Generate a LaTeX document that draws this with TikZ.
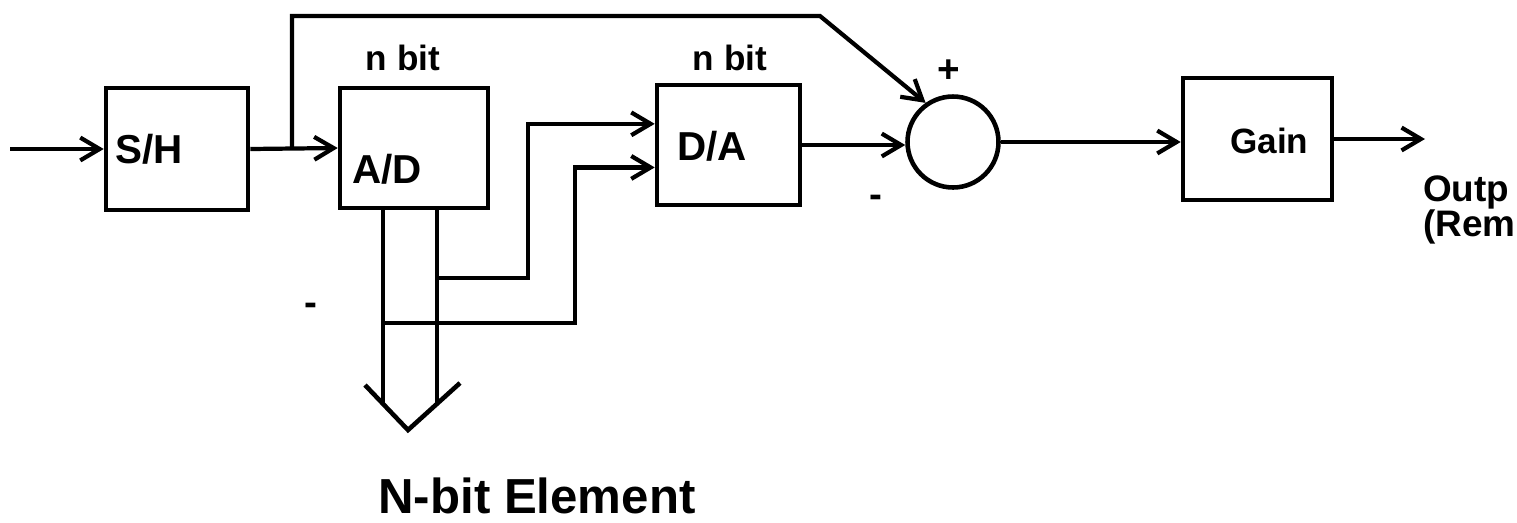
\documentclass[tikz,border=0pt]{standalone}
\usepackage{fontspec}
\setmainfont{Liberation Sans}
\usetikzlibrary{arrows.meta,positioning,calc}

\tikzset{
  box/.style={draw, line width=2.6pt, inner sep=0pt},
  arr/.style={-{Straight Barb[length=11pt,width=13pt]}},
  lbl/.style={font=\fontsize{23}{26}\selectfont\bfseries, anchor=base west, inner sep=0pt},
  bits/.style={font=\fontsize{20}{22}\selectfont\bfseries, anchor=base, inner sep=0pt},
  sgn/.style={font=\fontsize{22}{24}\selectfont\bfseries, inner sep=0pt},
}

\begin{document}
\begin{tikzpicture}[x=0.02cm, y=-0.02cm, line width=2.4pt]
  \clip (0,0) rectangle (1517,522);  % page of the reference

  % ---- Blocks ----
  \node[box, minimum width=2.84cm, minimum height=2.44cm] (sh) at (177,149) {};
  \node[box, minimum width=2.96cm, minimum height=2.40cm] (ad) at (414,148) {};
  \node[box, minimum width=2.86cm, minimum height=2.40cm] (da) at (728.5,145) {};
  \node[draw, circle, line width=2.6pt, minimum size=1.82cm, inner sep=0pt] (sum) at (953,142) {};
  \node[box, minimum width=2.98cm, minimum height=2.44cm] (gain) at (1257.5,139) {};

  % ---- Labels ----
  \node[lbl] (shtxt) at (113,163) {S/H};
  \node[lbl] (adtxt) at (350,183) {A/D};
  \node[lbl] (datxt) at (675,160) {D/A};
  \node[lbl, font=\fontsize{20}{22}\selectfont\bfseries] (gaintxt) at (1228,153) {Gain};
  \node[bits] (adbits) at (403,70) {n bit};
  \node[bits] (dabits) at (730,70) {n bit};
  \node[sgn] (plus) at (949,71) {+};
  \node[sgn] (minus) at (876,201) {-};
  \node[sgn] (mark) at (311,309) {-};
  \node[font=\fontsize{21}{16}\selectfont\bfseries, align=left, anchor=base west, inner sep=0pt]
    (outtxt) at (1421,236) {Outp\\[-1pt](Rem};
  \node[font=\fontsize{28}{30}\selectfont\bfseries, anchor=base, inner sep=0pt]
    (elemtxt) at (537,513) {N-bit Element};

  % ---- Signal path ----
  \coordinate (in) at (10,149);
  \coordinate (tap) at (292,149);
  \coordinate (bend) at (820,16);
  \coordinate (out) at (1425,139);
  \draw[arr] (in) -- (sh.west);
  \draw[arr] (sh.east) -- (ad.west);
  \draw[arr] (tap) |- (bend) -- (sum.125);
  \draw[arr] (da.east) -- (da.east -| sum.west);
  \draw[arr] (sum.east) -- (sum.east -| gain.west);
  \draw[arr] (gain.east) -- (out);

  % ---- N-bit bus out of the A/D ----
  \coordinate (busL) at (383,404);
  \coordinate (busR) at (437,404);
  \draw (ad.south -| busL) -- (busL);
  \draw (ad.south -| busR) -- (busR);
  \draw[line width=2.6pt] (365,385) -- (408,430) -- (460,383);

  % two bits back into the D/A
  \coordinate (jA) at (437,278);
  \coordinate (jB) at (383,323);
  \coordinate (daA) at ($(da.north west)!0.33!(da.south west)$);
  \coordinate (daB) at ($(da.north west)!0.68!(da.south west)$);
  \draw[arr] (jA) -| ([xshift=-2.54cm]daA) -- (daA);
  \draw[arr] (jB) -| ([xshift=-1.60cm]daB) -- (daB);
\end{tikzpicture}
\end{document}
